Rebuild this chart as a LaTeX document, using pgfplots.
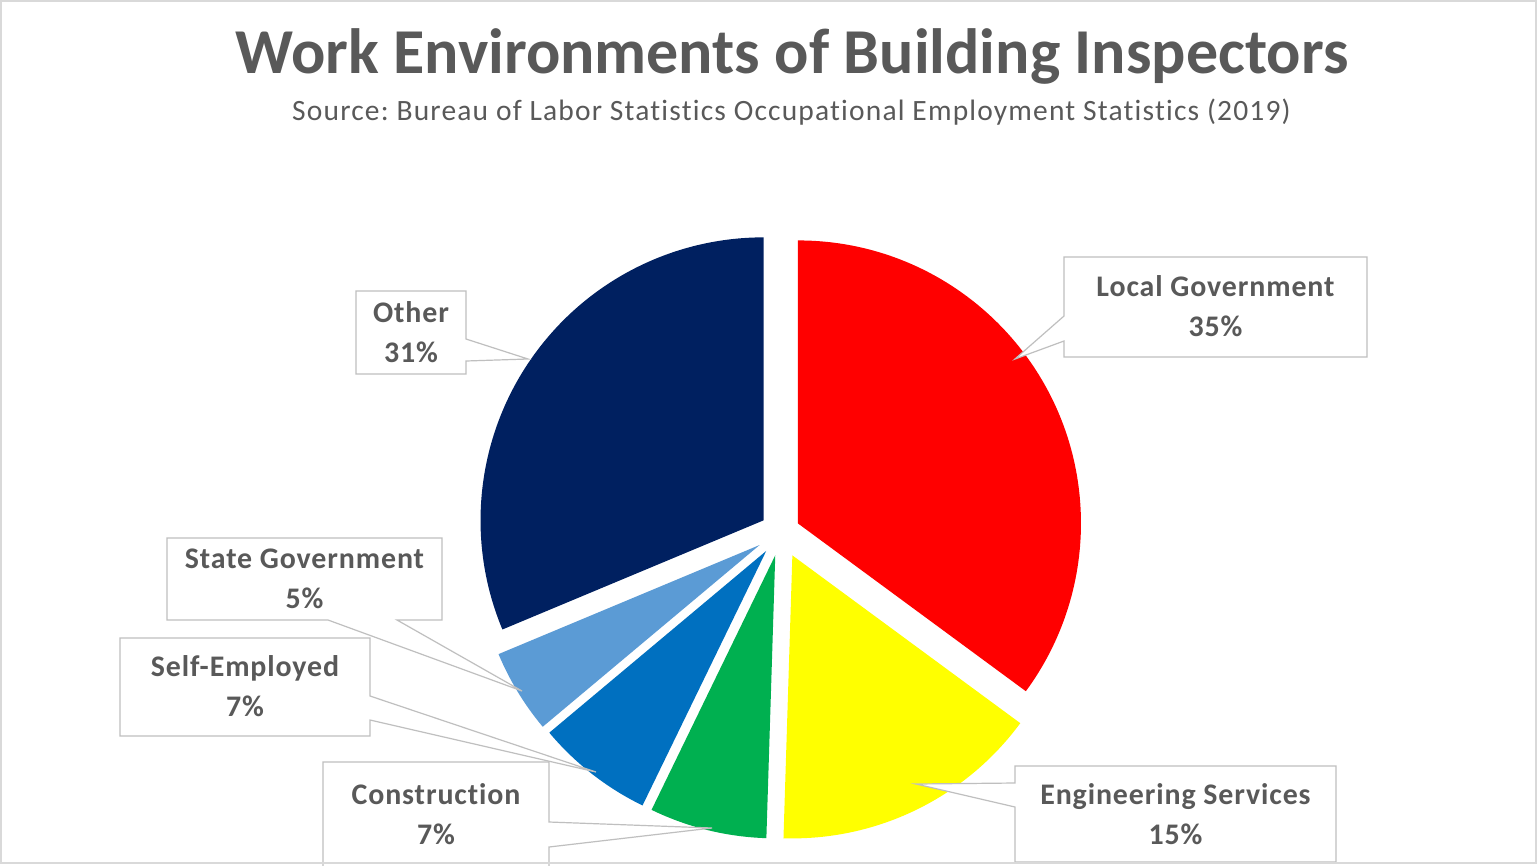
\documentclass[border=0pt]{standalone}
\usepackage{pgfplots}
\pgfplotsset{compat=1.18}
\usepackage{pgfplotstable}
\usepackage{fontspec}
\setmainfont{Carlito}[Ligatures=NoCommon]
\frenchspacing

\definecolor{txt}{HTML}{595959}
\definecolor{edge}{HTML}{BFBFBF}
\definecolor{frame}{HTML}{D9D9D9}
\definecolor{cLocal}{HTML}{FF0000}
\definecolor{cEng}{HTML}{FFFF00}
\definecolor{cCons}{HTML}{00B050}
\definecolor{cSelf}{HTML}{0070C0}
\definecolor{cState}{HTML}{5B9BD5}
\definecolor{cOther}{HTML}{002060}

% share in percent, slice colour, explode distance (px)
\pgfplotstableread[col sep=comma]{
label,value,color,explode
Local Government,35.1,cLocal,19
Engineering Services,15.4,cEng,26
Construction,6.7,cCons,24
Self-Employed,6.7,cSelf,24
State Government,4.8,cState,25
Other,31.3,cOther,21
}\piedata

\newcommand{\lbl}[3]{% x, y (baseline), text
  \node[anchor=base, text=txt, font=\bfseries\fontsize{15}{18}\selectfont\addfontfeature{LetterSpace=3}, inner sep=0pt] at (#1,#2) {#3};}

\begin{document}
\begin{tikzpicture}
\begin{axis}[
    x=0.5bp, y=0.5bp,
    y dir=reverse,
    xmin=0, xmax=1537,
    ymin=0, ymax=865,
    hide axis,
    clip=true,
]
\fill[white] (0,0) rectangle (1537,865);

% pie slices, clockwise from 12 o'clock
\def\angA{90}
\pgfplotsforeachungrouped \i in {0,...,5}{%
  \pgfplotstablegetelem{\i}{value}\of\piedata \let\val\pgfplotsretval
  \pgfplotstablegetelem{\i}{color}\of\piedata \let\col\pgfplotsretval
  \pgfplotstablegetelem{\i}{explode}\of\piedata \let\ex\pgfplotsretval
  \pgfmathsetmacro\angB{\angA-3.6*\val}
  \pgfmathsetmacro\angM{(\angA+\angB)/2}
  \pgfmathsetmacro\ox{781+\ex*cos(\angM)}
  \pgfmathsetmacro\oy{532-\ex*sin(\angM)}
  \edef\temp{\noexpand\fill[\col] (axis cs:\ox,\oy) -- ++(\angA:141.5bp)
     arc[start angle=\angA, end angle=\angB, radius=141.5bp] -- cycle;}
  \temp
  \global\let\angA\angB
}

% callouts
\begin{scope}[draw=edge, fill=white, line width=0.6bp]
\filldraw (1064,257) -- (1367,257) -- (1367,357) -- (1064,357) -- (1064,341) -- (1015,359) -- (1064,316) -- cycle;
\filldraw (1015,766) -- (1336,766) -- (1336,862) -- (1015,862) -- (1015,807) -- (916,784) -- (1015,783) -- cycle;
\filldraw (356,291) -- (466,291) -- (466,339) -- (528,359) -- (466,361) -- (466,374) -- (356,374) -- cycle;
\filldraw (167,538) -- (442,538) -- (442,620) -- (397,620) -- (522,691) -- (328,620) -- (167,620) -- cycle;
\filldraw (120,638) -- (370,638) -- (370,696) -- (596,772) -- (370,720) -- (370,736) -- (120,736) -- cycle;
\filldraw (323,762) -- (549,762) -- (549,822) -- (712,828) -- (549,847) -- (549,880) -- (323,880) -- cycle;
\end{scope}

\lbl{1215.5}{296.5}{Local Government}
\lbl{1215.5}{336.5}{35\%}
\lbl{1175.5}{804}{Engineering Services}
\lbl{1175.5}{844}{15\%}
\lbl{411}{322.5}{Other}
\lbl{411}{362.5}{31\%}
\lbl{304.5}{568.5}{State Government}
\lbl{304.5}{608.5}{5\%}
\lbl{245}{676.5}{Self-Employed}
\lbl{245}{716.5}{7\%}
\lbl{436}{804}{Construction}
\lbl{436}{844}{7\%}

% titles
\node[anchor=base, text=txt, font=\bfseries\fontsize{32.1}{38}\selectfont, inner sep=0pt] at (792,73) {Work Environments of Building Inspectors};
\node[anchor=base, text=txt, font=\fontsize{14.8}{17}\selectfont\addfontfeature{LetterSpace=4}, inner sep=0pt] at (791.5,120) {Source: Bureau of Labor Statistics Occupational Employment Statistics (2019)};

\draw[frame, line width=1bp] (1,1) rectangle (1535.5,862.5);
\end{axis}
\end{tikzpicture}
\end{document}
